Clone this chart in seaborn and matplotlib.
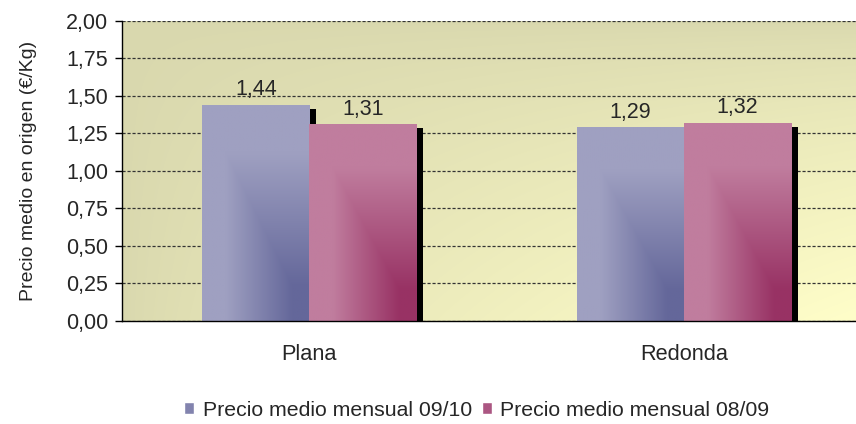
import numpy as np
import pandas as pd
import matplotlib
matplotlib.use("Agg")
import matplotlib.pyplot as plt
import matplotlib.patheffects as pe
from matplotlib.patches import Patch
from matplotlib.colors import to_rgb
import seaborn as sns

# data
tipos = ["Plana", "Redonda"]
series = ["Precio medio mensual 09/10", "Precio medio mensual 08/09"]
precio_0910 = [1.44, 1.29]
precio_0809 = [1.31, 1.32]
yticks = [0.0, 0.25, 0.5, 0.75, 1.0, 1.25, 1.5, 1.75, 2.0]

df = pd.DataFrame({
    "tipo": tipos * 2,
    "serie": [series[0]] * 2 + [series[1]] * 2,
    "precio": precio_0910 + precio_0809,
})

light = {series[0]: "#9fa0c1", series[1]: "#c07d9e"}
dark = {series[0]: "#64679a", series[1]: "#983264"}

sns.set_style("white")
plt.rcParams["font.family"] = ["Liberation Sans", "DejaVu Sans"]

fig = plt.figure(figsize=(8.56, 4.24), dpi=100)
ax = fig.add_axes([0.1429, 0.2436, 0.8571, 0.7069])

sns.barplot(data=df, x="tipo", y="precio", hue="serie", hue_order=series,
            palette=[light[s] for s in series], width=0.572, gap=0,
            saturation=1, linewidth=0, legend=False, ax=ax)


def grad(c1, c2, t):
    a = np.array(to_rgb(c1))
    b = np.array(to_rgb(c2))
    return a + (b - a) * t[..., None]


# background: khaki top-left -> pale yellow bottom-right (row 0 = top)
u, v = np.meshgrid(np.linspace(0, 1, 200), np.linspace(0, 1, 200))
t_bg = np.clip(u * v, 0, 1) ** 0.7
ax.imshow(grad("#d9d8ae", "#fffec9", t_bg), extent=[0, 1, 0, 1],
          transform=ax.transAxes, aspect="auto", zorder=0, interpolation="bilinear")

# gradient fill + drop shadow for every bar
hue_of_patch = [series[0]] * len(tipos) + [series[1]] * len(tipos)
for p, s in zip(ax.patches, hue_of_patch):
    p.set_path_effects([pe.SimplePatchShadow(offset=(5, -2.9), shadow_rgbFace="black", alpha=1.0),
                        pe.Normal()])
    x0, y0 = p.get_x(), p.get_y()
    w, h = p.get_width(), p.get_height()
    bu, bv = np.meshgrid(np.linspace(0, 1, 100), np.linspace(0, 1, 100))
    tb = np.clip(np.minimum(bu * 1.6 - 0.35, bv * 1.6 - 0.35), 0, 1)
    im = ax.imshow(grad(light[s], dark[s], tb), extent=[x0, x0 + w, y0, y0 + h],
                   aspect="auto", zorder=1.5, interpolation="bilinear")
    im.set_clip_path(p)
    ax.text(x0 + w / 2, y0 + h + 0.03, f"{h:.2f}".replace(".", ","),
            ha="center", va="bottom", fontsize=15.5, zorder=3)

ax.set_yticks(yticks)
ax.set_yticklabels([f"{y:.2f}".replace(".", ",") for y in yticks], fontsize=15.5)
ax.set_xticks([0, 1])
ax.set_xticklabels(tipos, fontsize=15.7)
ax.set_xticks([-0.5, 0.5], minor=True)
ax.tick_params(axis="x", which="major", length=0, pad=17)
ax.tick_params(axis="x", which="minor", length=5, width=1, color="black", direction="out")
ax.tick_params(axis="y", length=5, width=1, color="black", direction="out", pad=5, left=True)
ax.set_xlim(-0.5, 1.46)
ax.set_ylim(0, 2.0)

ax.set_axisbelow(True)
ax.yaxis.grid(True, linestyle=(0, (2.5, 1.5)), linewidth=0.9, color="#333333")
ax.xaxis.grid(False)
for side in ["top", "right"]:
    ax.spines[side].set_visible(False)
for side in ["left", "bottom"]:
    ax.spines[side].set_color("black")
    ax.spines[side].set_linewidth(1)

ax.set_xlabel("")
ax.set_ylabel("Precio medio en origen (€/Kg)", fontsize=14)
ax.yaxis.set_label_coords(-0.116, 0.5)

handles = [Patch(facecolor="#8283ae", label=series[0]),
           Patch(facecolor="#ab5682", label=series[1])]
fig.legend(handles=handles, loc="center", bbox_to_anchor=(477 / 856, 1 - 410 / 424),
           ncol=2, frameon=False, fontsize=15.3, handlelength=0.45, handleheight=0.45,
           handletextpad=0.4, columnspacing=0.5)

fig.savefig("out.png", dpi=100)
